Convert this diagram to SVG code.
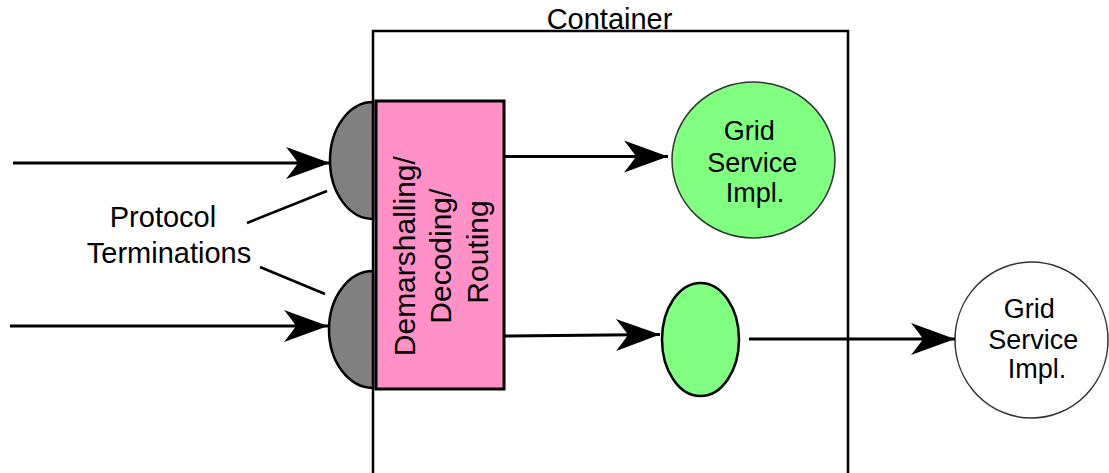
<svg xmlns="http://www.w3.org/2000/svg" width="1109" height="473" viewBox="0 0 1109 473">
  <style>
    .lbl { font-family: "Liberation Sans", Arial, sans-serif; fill: #000; }
    .conn { stroke: #000; stroke-width: 3; fill: none; marker-end: url(#arrow); }
    .ptr { stroke: #000; stroke-width: 2.5; fill: none; }
    .term { fill: #808080; stroke: #000; stroke-width: 2.5; }
  </style>
  <defs>
    <marker id="arrow" markerUnits="userSpaceOnUse" markerWidth="60" markerHeight="40" refX="0" refY="0" orient="auto" overflow="visible">
      <path d="M0,0 L-44,-16 Q-36,-6 -32,0 Q-36,6 -44,16 Z" fill="#000"/>
    </marker>
  </defs>
  <rect width="1109" height="473" fill="#fff"/>

  <g id="container">
    <path d="M373,480 L373,31 L848,31 L848,480" fill="none" stroke="#000" stroke-width="2.5"/>
    <text class="lbl" x="609.5" y="29" font-size="29" text-anchor="middle">Container</text>
  </g>

  <g id="term-top">
    <path class="term" d="M373,102 A43,58.5 0 0 0 373,219 Z"/>
  </g>
  <g id="term-bottom">
    <path class="term" d="M373,271 A44,58.5 0 0 0 373,388 Z"/>
  </g>

  <g id="demarshalling">
    <rect x="376" y="101" width="128" height="288" fill="#FF91C8" stroke="#000" stroke-width="3"/>
    <text class="lbl" font-size="30" text-anchor="middle" transform="translate(415,252) rotate(-90)">
      <tspan x="0" y="0">Demarshalling/</tspan>
      <tspan x="0" y="36">Decoding/</tspan>
      <tspan x="0" y="73">Routing</tspan>
    </text>
  </g>

  <g id="grid-service-inner">
    <ellipse cx="753.5" cy="160" rx="81.5" ry="78" fill="#80FF80" stroke="#333" stroke-width="1.5"/>
    <text class="lbl" font-size="27" text-anchor="middle">
      <tspan x="753" y="140">Grid</tspan>
      <tspan x="756" y="172">Service</tspan>
      <tspan x="755" y="202">Impl.</tspan>
    </text>
  </g>

  <g id="proxy">
    <ellipse cx="700.5" cy="339.5" rx="38.5" ry="56.5" fill="#80FF80" stroke="#000" stroke-width="2.5"/>
  </g>

  <g id="grid-service-outer">
    <ellipse cx="1031.5" cy="340" rx="76.5" ry="78" fill="#fff" stroke="#333" stroke-width="1.5"/>
    <text class="lbl" font-size="27" text-anchor="middle">
      <tspan x="1033" y="318">Grid</tspan>
      <tspan x="1037" y="349">Service</tspan>
      <tspan x="1037" y="378">Impl.</tspan>
    </text>
  </g>

  <g id="protocol-label">
    <text class="lbl" font-size="29" text-anchor="middle">
      <tspan x="167" y="227">Protocol</tspan>
      <tspan x="169" y="263">Terminations</tspan>
    </text>
  </g>

  <g id="connectors">
    <path class="conn" d="M13,163 L330,163"/>
    <path class="conn" d="M10,326 L328,326"/>
    <path class="conn" d="M505,156.5 L668,156.5"/>
    <path class="conn" d="M505,336 L660,334.5"/>
    <path class="conn" d="M749,339 L955,339"/>
    <path class="ptr" d="M247,223 L327,191"/>
    <path class="ptr" d="M260,267 L325,294"/>
  </g>
</svg>
